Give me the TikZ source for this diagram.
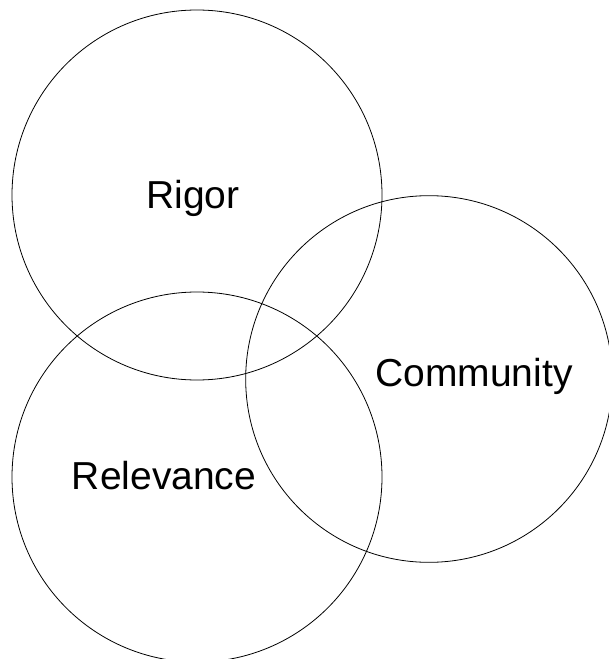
\documentclass[tikz,border=0pt]{standalone}
\usepackage{fontspec}
\setmainfont{Liberation Sans}
\tikzset{
	ring/.style={draw=black, line width=.6pt},
	word/.style={anchor=base, inner sep=0pt, font=\fontsize{29.25}{35}\selectfont}
}
\begin{document}
\begin{tikzpicture}[x=.75pt, y=-.75pt]
	\useasboundingbox (0,0) rectangle (608,659);
	\coordinate (rigor)     at (197,195);
	\coordinate (community) at (429,379);
	\coordinate (relevance) at (197,477);
	\draw[ring] (rigor)     circle (138.75pt);
	\draw[ring] (community) circle (137.5pt);
	\draw[ring] (relevance) circle (138.75pt);
	\node[word] (rigorlabel)     at (193,208.5) {Rigor};
	\node[word] (communitylabel) at (474,386.5) {Community};
	\node[word] (relevancelabel) at (164,489)   {Relevance};
\end{tikzpicture}
\end{document}
